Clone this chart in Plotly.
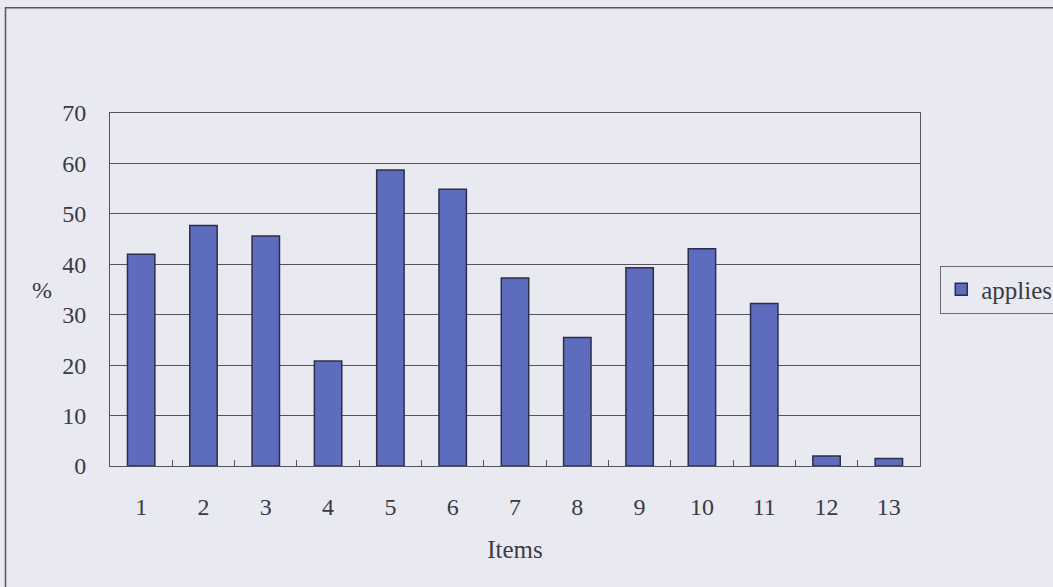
import plotly.graph_objects as go

# Share of respondents for whom each item applies (%)
items = ["1", "2", "3", "4", "5", "6", "7", "8", "9", "10", "11", "12", "13"]
applies = [42.0, 47.7, 45.6, 20.8, 58.7, 54.9, 37.3, 25.5, 39.3, 43.1, 32.2, 2.0, 1.5]
y_ticks = [0, 10, 20, 30, 40, 50, 60, 70]

BG = "#e9e9f1"
BAR = "#5d6cbd"
EDGE = "#2e2e4a"
GRID = "#54545e"
TEXT = "#3a3a44"
FONT = "Liberation Serif"

fig = go.Figure()
fig.add_trace(go.Bar(
    x=items, y=applies, name="applies",
    marker=dict(color=BAR, line=dict(color=EDGE, width=1.5)),
))

fig.update_layout(
    width=1053, height=587,
    margin=dict(l=110, r=133, t=113, b=121, autoexpand=False),
    paper_bgcolor=BG, plot_bgcolor=BG,
    font=dict(family=FONT, size=24, color=TEXT),
    bargap=0.56,
    showlegend=True,
    legend=dict(
        x=1.025, y=0.5, xanchor="left", yanchor="middle",
        bgcolor=BG, bordercolor="#6a6a74", borderwidth=1,
        font=dict(family=FONT, size=25, color=TEXT),
        itemwidth=30, tracegroupgap=0,
    ),
    xaxis=dict(
        type="category",
        showgrid=False,
        showline=True, linecolor=GRID, linewidth=1, mirror=True,
        ticks="inside", tickson="boundaries", ticklen=6, tickcolor=GRID,
        ticklabelstandoff=19,
        tickfont=dict(family=FONT, size=24, color=TEXT),
        title=dict(text="Items", standoff=21, font=dict(family=FONT, size=25, color=TEXT)),
    ),
    yaxis=dict(
        range=[0, 70], tickvals=y_ticks,
        showgrid=True, gridcolor=GRID, gridwidth=1,
        showline=True, linecolor=GRID, linewidth=1, mirror=True,
        ticks="", ticklabelstandoff=18,
        tickfont=dict(family=FONT, size=24, color=TEXT),
        zeroline=False,
    ),
    annotations=[dict(
        text="%", xref="paper", yref="paper",
        x=-0.084, y=0.5, xanchor="center", yanchor="middle",
        showarrow=False, font=dict(family=FONT, size=24, color=TEXT),
    )],
    shapes=[dict(
        type="rect", xref="paper", yref="paper",
        x0=-0.129, x1=1.2, y0=-0.5, y1=1.298,
        line=dict(color="#55555f", width=1.5), fillcolor="rgba(0,0,0,0)",
        layer="below",
    )],
)

fig.write_html("out.html")
